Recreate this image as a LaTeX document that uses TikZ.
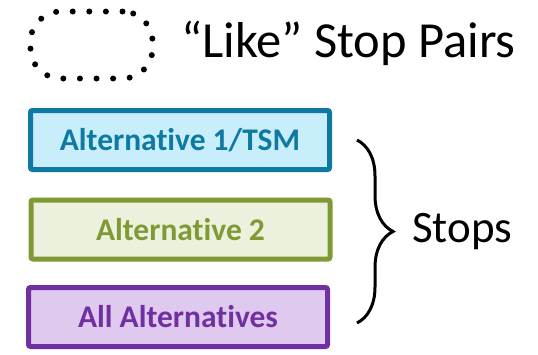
\documentclass[tikz,border=0pt]{standalone}
\usepackage{fontspec}
\setmainfont[Ligatures={NoCommon}]{Carlito}
\usetikzlibrary{decorations.pathreplacing}
\definecolor{bluestroke}{HTML}{0E7AA3}
\definecolor{bluefill}{HTML}{C8EEFC}
\definecolor{greenstroke}{HTML}{7F9A35}
\definecolor{greenfill}{HTML}{EBF1DD}
\definecolor{purplestroke}{HTML}{7030A0}
\definecolor{purplefill}{HTML}{DFC9EF}
\tikzset{
  altbox/.style={draw, line width=5pt, rounded corners=2pt, minimum width=299pt, minimum height=59pt, inner sep=0pt, font=\fontsize{31.5}{36}\selectfont\bfseries},
  bigtext/.style={inner sep=0pt, font=\fontsize{45}{52}\selectfont},
}
\begin{document}
\begin{tikzpicture}[x=1pt,y=-1pt]
\useasboundingbox (0,0) rectangle (538,354);
\node[draw, line width=6pt, dash pattern=on 0pt off 16.6pt, line cap=round,
      rounded corners=30pt, minimum width=122pt, minimum height=67pt, inner sep=0pt]
      (like) at (91.5,45) {};
\node[inner sep=0pt, font=\fontsize{50.5}{57}\selectfont, anchor=base west] (liketext) at (181,57) {“Like” Stop Pairs};
\node[altbox, color=bluestroke, fill=bluefill] (alt1) at (180,140) {Alternative 1/TSM};
\node[altbox, color=greenstroke, fill=greenfill] (alt2) at (180.5,229.5) {Alternative 2};
\node[altbox, color=purplestroke, fill=purplefill] (all) at (178,317) {All Alternatives};
\coordinate (bt) at (357,140);
\coordinate (bb) at (357,323);
\draw[line width=3pt, decorate, decoration={brace, amplitude=36pt}] (bt) -- (bb);
\node[bigtext, anchor=west] (stops) at (412,232) {Stops};
\end{tikzpicture}
\end{document}
